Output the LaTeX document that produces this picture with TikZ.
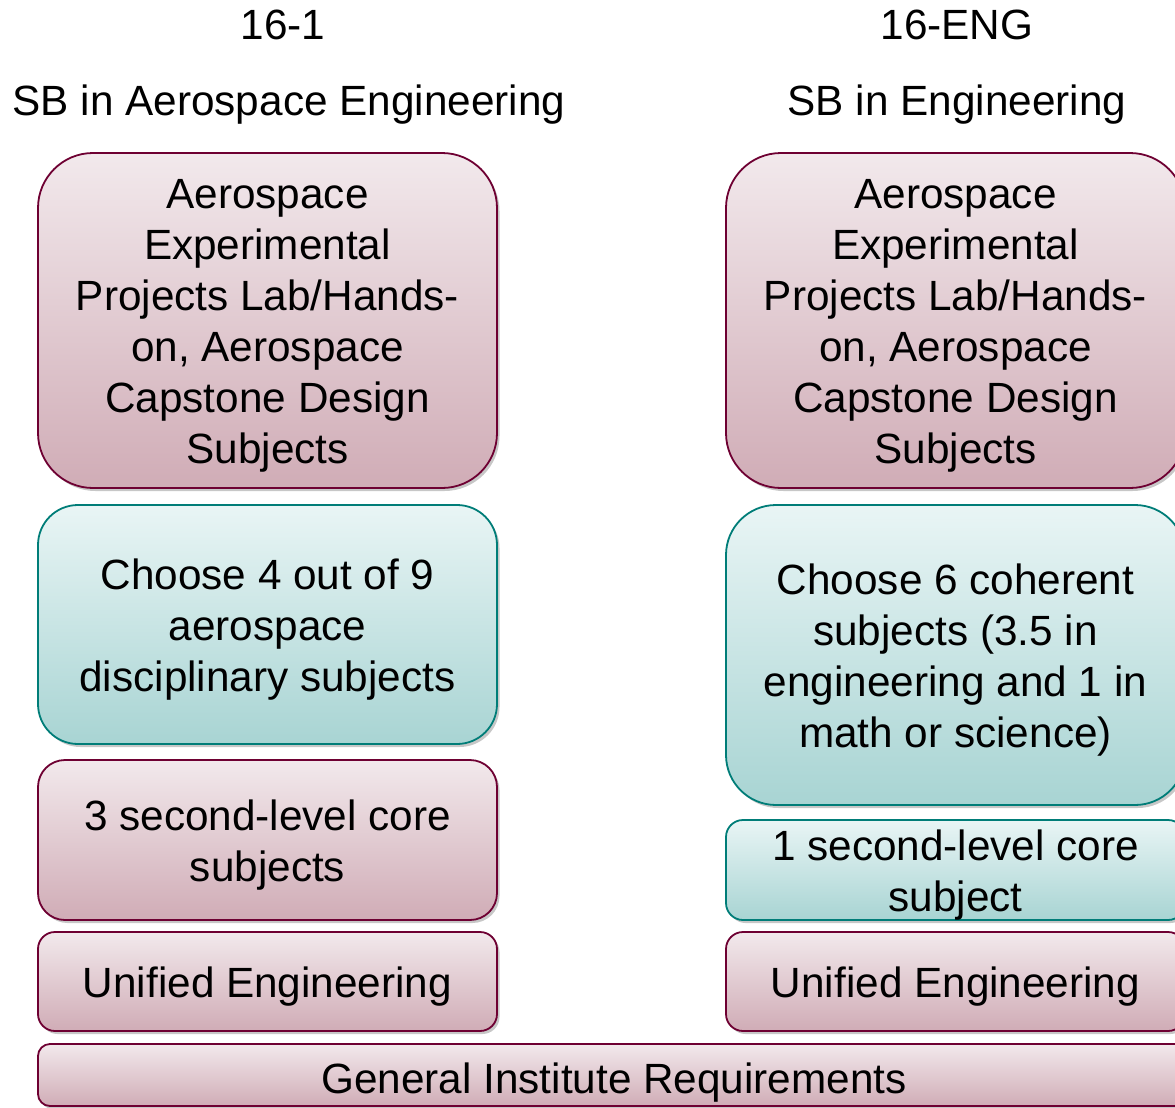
\documentclass[tikz,border=0pt]{standalone}
\usepackage{fontspec}
\setmainfont{Liberation Sans}
\usetikzlibrary{shadows}
\definecolor{maroonline}{RGB}{110,0,50}
\definecolor{maroontop}{RGB}{242,233,236}
\definecolor{maroonbot}{RGB}{208,172,182}
\definecolor{tealline}{RGB}{0,125,120}
\definecolor{tealtop}{RGB}{233,245,245}
\definecolor{tealbot}{RGB}{168,212,211}
\tikzset{
  base/.style={rectangle, draw, line width=1.8pt, inner sep=0pt,
    general shadow={shadow xshift=2.5pt, shadow yshift=-3pt, fill=black!22}},
  maroonbox/.style={base, draw=maroonline, top color=maroontop, bottom color=maroonbot},
  tealbox/.style={base, draw=tealline, top color=tealtop, bottom color=tealbot},
  boxtext/.style={align=center, font=\fontsize{42.3}{51}\selectfont, inner sep=0pt},
  title/.style={font=\fontsize{42.3}{51}\selectfont, inner sep=0pt}
}
\begin{document}
\begin{tikzpicture}[x=1pt,y=-1pt]
\useasboundingbox (0,0) rectangle (1175,1108);
\clip (0,0) rectangle (1175,1108);

% column headings
\node[title] (t1a) at (283,25) {16-1};
\node[title] (t1b) at (289,105) {SB in Aerospace Engineering};
\node[title] (t2a) at (957,25) {16-ENG};
\node[title] (t2b) at (957,105) {SB in Engineering};

% left column: 16-1
\node[maroonbox, rounded corners=55pt, minimum width=459pt, minimum height=335pt] (l1) at (267.5,320.5) {};
\node[tealbox, rounded corners=40pt, minimum width=459pt, minimum height=239pt] (l2) at (267.5,624.5) {};
\node[maroonbox, rounded corners=27pt, minimum width=459pt, minimum height=160pt] (l3) at (267.5,840) {};
\node[maroonbox, rounded corners=17pt, minimum width=459pt, minimum height=99pt] (l4) at (267.5,981.5) {};

% right column: 16-ENG
\node[maroonbox, rounded corners=55pt, minimum width=459pt, minimum height=335pt] (r1) at (955.5,320.5) {};
\node[tealbox, rounded corners=50pt, minimum width=459pt, minimum height=300pt] (r2) at (955.5,655) {};
\node[tealbox, rounded corners=17pt, minimum width=459pt, minimum height=100pt] (r3) at (955.5,870) {};
\node[maroonbox, rounded corners=17pt, minimum width=459pt, minimum height=99pt] (r4) at (955.5,981.5) {};

% shared base
\node[maroonbox, rounded corners=12pt, minimum width=1152pt, minimum height=62pt] (gir) at (614,1075) {};

% box texts
\node[boxtext] (l1t) at ([yshift=-5pt]l1.center)
  {Aerospace\\Experimental\\Projects Lab/Hands-\\on, Aerospace\\Capstone Design\\Subjects};
\node[boxtext] (l2t) at ([yshift=-5pt]l2.center)
  {Choose 4 out of 9\\aerospace\\disciplinary subjects};
\node[boxtext] (l3t) at ([yshift=-5pt]l3.center) {3 second-level core\\subjects};
\node[boxtext] (l4t) at ([yshift=-5pt]l4.center) {Unified Engineering};
\node[boxtext] (r1t) at ([yshift=-5pt]r1.center)
  {Aerospace\\Experimental\\Projects Lab/Hands-\\on, Aerospace\\Capstone Design\\Subjects};
\node[boxtext] (r2t) at ([yshift=-5pt]r2.center)
  {Choose 6 coherent\\subjects (3.5 in\\engineering and 1 in\\math or science)};
\node[boxtext] (r3t) at ([yshift=-5pt]r3.center) {1 second-level core\\subject};
\node[boxtext] (r4t) at ([yshift=-5pt]r4.center) {Unified Engineering};
\node[boxtext] (girt) at ([yshift=-8pt]gir.center) {General Institute Requirements};
\end{tikzpicture}
\end{document}
